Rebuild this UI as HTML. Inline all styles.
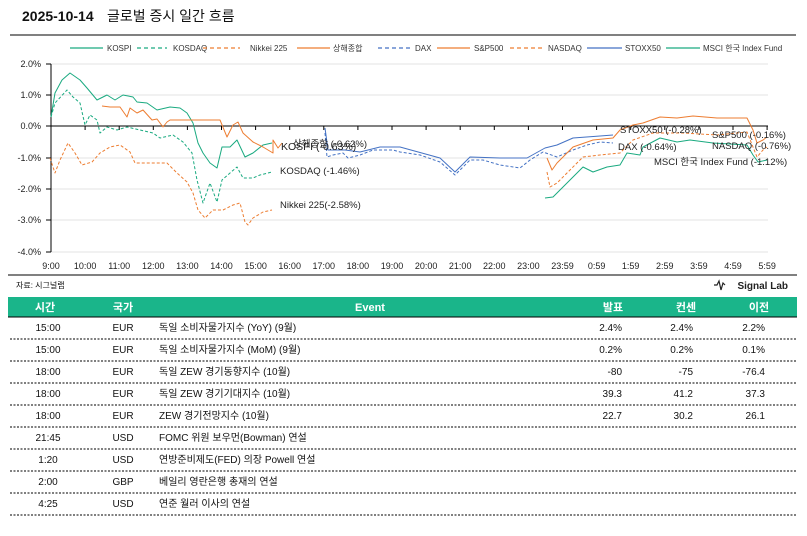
<!DOCTYPE html>
<html><head><meta charset="utf-8"><style>
body{margin:0;background:#fff;width:807px;height:531px;overflow:hidden;font-family:"Liberation Sans","Noto Sans CJK KR",sans-serif}
svg text{font-family:"Liberation Sans","Noto Sans CJK KR",sans-serif}
</style></head><body>
<svg width="807" height="531" viewBox="0 0 807 531" xmlns="http://www.w3.org/2000/svg">
<text x="22" y="21" font-size="14" font-weight="bold" fill="#111">2025-10-14</text>
<text x="107" y="21" font-size="14" fill="#111">글로벌 증시 일간 흐름</text>
<line x1="10" y1="35" x2="796" y2="35" stroke="#000" stroke-width="1"/>
<g font-size="8" fill="#333">
<line x1="70" y1="48" x2="103" y2="48" stroke="#1aaa80" stroke-width="1.2"/><text x="107" y="51">KOSPI</text>
<line x1="137" y1="48" x2="167" y2="48" stroke="#1aaa80" stroke-width="1.2" stroke-dasharray="4,3"/><text x="173" y="51">KOSDAQ</text>
<line x1="203" y1="48" x2="240" y2="48" stroke="#ed7d31" stroke-width="1.2" stroke-dasharray="4,3"/><text x="250" y="51">Nikkei 225</text>
<line x1="297" y1="48" x2="330" y2="48" stroke="#ed7d31" stroke-width="1.2"/><text x="333" y="51">상해종합</text>
<line x1="378" y1="48" x2="410" y2="48" stroke="#4472c4" stroke-width="1.2" stroke-dasharray="4,3"/><text x="415" y="51">DAX</text>
<line x1="437" y1="48" x2="470" y2="48" stroke="#ed7d31" stroke-width="1.2"/><text x="474" y="51">S&amp;P500</text>
<line x1="510" y1="48" x2="545" y2="48" stroke="#ed7d31" stroke-width="1.2" stroke-dasharray="4,3"/><text x="548" y="51">NASDAQ</text>
<line x1="587" y1="48" x2="622" y2="48" stroke="#4472c4" stroke-width="1.2"/><text x="625" y="51">STOXX50</text>
<line x1="666" y1="48" x2="700" y2="48" stroke="#1aaa80" stroke-width="1.2"/><text x="703" y="51">MSCI 한국 Index Fund</text>
</g>
<g stroke="#e3e3e3" stroke-width="1">
<line x1="51" y1="64" x2="768" y2="64"/><line x1="51" y1="95" x2="768" y2="95"/>
<line x1="51" y1="158" x2="768" y2="158"/><line x1="51" y1="189" x2="768" y2="189"/>
<line x1="51" y1="220" x2="768" y2="220"/><line x1="51" y1="252" x2="768" y2="252"/>
</g>
<line x1="51" y1="64" x2="51" y2="252" stroke="#000"/>
<g stroke="#000"><line x1="46" y1="64" x2="51" y2="64"/><line x1="46" y1="95" x2="51" y2="95"/><line x1="46" y1="126" x2="51" y2="126"/><line x1="46" y1="158" x2="51" y2="158"/><line x1="46" y1="189" x2="51" y2="189"/><line x1="46" y1="220" x2="51" y2="220"/><line x1="46" y1="252" x2="51" y2="252"/></g>
<line x1="51" y1="126" x2="768" y2="126" stroke="#000"/>
<path stroke="#000" d="M51,126v4M85.1,126v4M119.2,126v4M153.3,126v4M187.4,126v4M221.5,126v4M255.6,126v4M289.7,126v4M323.8,126v4M357.9,126v4M392,126v4M426.1,126v4M460.2,126v4M494.3,126v4M528.4,126v4M562.5,126v4M596.6,126v4M630.7,126v4M664.8,126v4M698.9,126v4M733,126v4M767.1,126v4"/>
<g font-size="9" fill="#222" text-anchor="end">
<text x="41" y="67">2.0%</text><text x="41" y="98">1.0%</text><text x="41" y="129">0.0%</text><text x="41" y="161">-1.0%</text><text x="41" y="192">-2.0%</text><text x="41" y="223">-3.0%</text><text x="41" y="255">-4.0%</text>
</g>
<g font-size="9" fill="#222" text-anchor="middle">
<text x="51" y="269">9:00</text><text x="85.1" y="269">10:00</text><text x="119.2" y="269">11:00</text><text x="153.3" y="269">12:00</text><text x="187.4" y="269">13:00</text><text x="221.5" y="269">14:00</text><text x="255.6" y="269">15:00</text><text x="289.7" y="269">16:00</text><text x="323.8" y="269">17:00</text><text x="357.9" y="269">18:00</text><text x="392" y="269">19:00</text><text x="426.1" y="269">20:00</text><text x="460.2" y="269">21:00</text><text x="494.3" y="269">22:00</text><text x="528.4" y="269">23:00</text><text x="562.5" y="269">23:59</text><text x="596.6" y="269">0:59</text><text x="630.7" y="269">1:59</text><text x="664.8" y="269">2:59</text><text x="698.9" y="269">3:59</text><text x="733" y="269">4:59</text><text x="767.1" y="269">5:59</text>
</g>
<g fill="none" stroke-width="1" stroke-linejoin="round">
<polyline stroke="#1aaa80" points="51,117 55,93 62,80 70,73 80,80 87,88 97,100 107,95 115,100 123,95 133,97 137,102 147,103 157,110 170,107 180,108 187,113 193,123 198,143 203,153 210,163 217,168 222,147 230,147 237,140 245,157 253,153 263,145 272,143"/>
<polyline stroke="#1aaa80" stroke-dasharray="3,2" points="51,117 55,103 67,90 73,97 80,103 85,125 90,115 97,120 100,133 107,127 117,130 127,127 140,130 153,133 160,138 173,135 183,142 192,153 197,180 203,203 210,183 217,202 222,180 230,173 237,167 243,178 253,178 260,175 272,172"/>
<polyline stroke="#ed7d31" stroke-dasharray="3,2" points="50,158 55,173 60,160 68,143 75,153 82,165 92,162 100,153 110,147 120,145 130,152 135,163 167,163 177,173 187,182 193,193 198,210 205,218 213,210 223,210 233,205 240,203 245,222 248,225 253,218 263,212 272,210"/>
<polyline stroke="#ed7d31" points="102,106 110,107 120,107 127,117 130,108 137,113 143,110 152,120 157,119 163,127 167,122 170,120 220,120 227,137 233,125 238,122 243,133 253,142 263,147 273,153 273,140 278,148 282,143"/>
<polyline stroke="#4472c4" stroke-dasharray="3,2" points="325,133 327,157 333,155 343,153 348,158 360,155 373,150 393,150 400,152 420,155 440,162 455,175 470,160 483,160 500,165 520,168 530,160 543,152 557,157 573,150 587,145 600,142 613,143"/>
<polyline stroke="#4472c4" points="325,128 328,150 345,150 360,152 380,147 400,147 440,158 455,172 470,157 500,158 527,158 545,148 557,145 573,138 600,136 613,135"/>
<polyline stroke="#ed7d31" points="547,158 552,170 557,163 573,147 593,140 613,138 620,130 633,125 643,123 660,117 677,118 693,116 717,118 747,118 753,130 757,143 763,140 767,137"/>
<polyline stroke="#ed7d31" stroke-dasharray="3,2" points="547,172 550,187 557,183 570,170 583,157 600,155 620,153 633,140 653,133 683,133 717,135 747,132 757,157 763,150 767,147"/>
<polyline stroke="#1aaa80" points="545,198 553,197 563,187 573,177 583,167 593,172 607,167 620,165 627,153 640,155 643,147 660,138 677,142 690,140 713,143 747,145 753,155 758,162 767,160"/>
</g>
<g font-size="9.5" fill="#222">
<text x="293" y="147">상해종합 (-0.62%)</text>
<text x="281" y="150" font-size="10.5">KOSPI (-0.63%)</text>
<text x="280" y="174">KOSDAQ (-1.46%)</text>
<text x="280" y="208">Nikkei  225(-2.58%)</text>
<text x="620" y="133">STOXX50 (-0.28%)</text>
<text x="712" y="138">S&amp;P500 (-0.16%)</text>
<text x="618" y="150">DAX (-0.64%)</text>
<text x="712" y="149">NASDAQ (-0.76%)</text>
<text x="654" y="165">MSCI 한국 Index Fund (-1.12%)</text>
</g>
<line x1="8" y1="275" x2="797" y2="275" stroke="#000"/>
<text x="16" y="288" font-size="8" fill="#111">자료: 시그널랩</text>
<text x="788" y="289" font-size="10" font-weight="bold" fill="#222" text-anchor="end">Signal Lab</text>
<polyline points="714,285 717,285 719,281 721,290 723,283 725,285" fill="none" stroke="#222" stroke-width="1.2"/>
<rect x="8" y="297" width="789" height="20" fill="#1ab58a"/>
<line x1="8" y1="317" x2="797" y2="317" stroke="#000"/>
<g font-size="11" font-weight="bold" fill="#fff" text-anchor="middle">
<text x="45" y="311">시간</text><text x="123" y="311">국가</text><text x="370" y="311">Event</text><text x="613" y="311">발표</text><text x="686" y="311">컨센</text><text x="759" y="311">이전</text>
</g>
<g font-size="10" fill="#111">
<g text-anchor="middle">
<text x="48" y="331">15:00</text><text x="123" y="331">EUR</text>
<text x="48" y="353">15:00</text><text x="123" y="353">EUR</text>
<text x="48" y="375">18:00</text><text x="123" y="375">EUR</text>
<text x="48" y="397">18:00</text><text x="123" y="397">EUR</text>
<text x="48" y="419">18:00</text><text x="123" y="419">EUR</text>
<text x="48" y="441">21:45</text><text x="123" y="441">USD</text>
<text x="48" y="463">1:20</text><text x="123" y="463">USD</text>
<text x="48" y="485">2:00</text><text x="123" y="485">GBP</text>
<text x="48" y="507">4:25</text><text x="123" y="507">USD</text>
</g>
<text x="159" y="331">독일 소비자물가지수 (YoY) (9월)</text>
<text x="159" y="353">독일 소비자물가지수 (MoM) (9월)</text>
<text x="159" y="375">독일 ZEW 경기동향지수 (10월)</text>
<text x="159" y="397">독일 ZEW 경기기대지수 (10월)</text>
<text x="159" y="419">ZEW 경기전망지수 (10월)</text>
<text x="159" y="441">FOMC 위원 보우먼(Bowman) 연설</text>
<text x="159" y="463">연방준비제도(FED) 의장 Powell 연설</text>
<text x="159" y="485">베일리 영란은행 총재의 연설</text>
<text x="159" y="507">연준 월러 이사의 연설</text>
<g text-anchor="end">
<text x="622" y="331">2.4%</text><text x="693" y="331">2.4%</text><text x="765" y="331">2.2%</text>
<text x="622" y="353">0.2%</text><text x="693" y="353">0.2%</text><text x="765" y="353">0.1%</text>
<text x="622" y="375">-80</text><text x="693" y="375">-75</text><text x="765" y="375">-76.4</text>
<text x="622" y="397">39.3</text><text x="693" y="397">41.2</text><text x="765" y="397">37.3</text>
<text x="622" y="419">22.7</text><text x="693" y="419">30.2</text><text x="765" y="419">26.1</text>
</g>
</g>
<g stroke="#000" stroke-dasharray="2,1.5" stroke-width="1">
<line x1="10" y1="339" x2="797" y2="339"/><line x1="10" y1="361" x2="797" y2="361"/>
<line x1="10" y1="383" x2="797" y2="383"/><line x1="10" y1="405" x2="797" y2="405"/>
<line x1="10" y1="427" x2="797" y2="427"/><line x1="10" y1="449" x2="797" y2="449"/>
<line x1="10" y1="471" x2="797" y2="471"/><line x1="10" y1="493" x2="797" y2="493"/>
<line x1="10" y1="515" x2="797" y2="515"/>
</g>
</svg>
</body></html>
